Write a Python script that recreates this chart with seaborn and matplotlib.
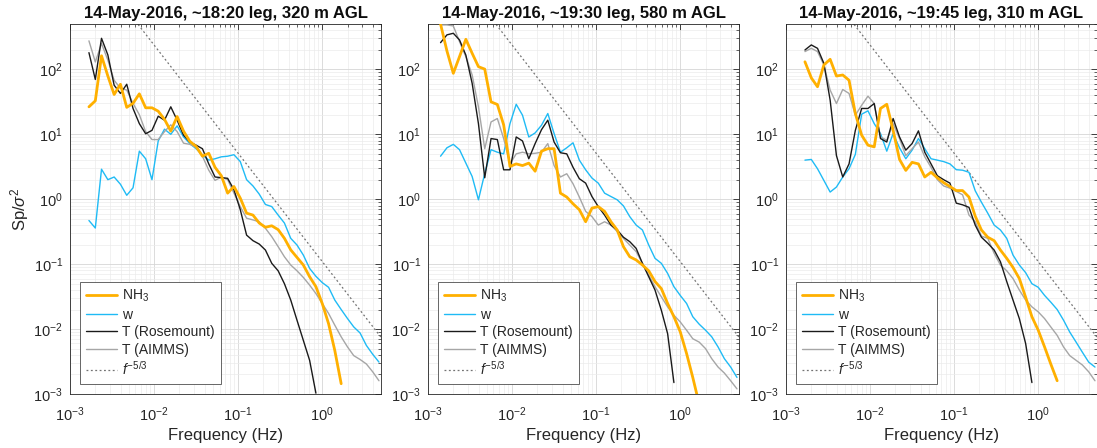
import numpy as np
import matplotlib
matplotlib.use("Agg")
import matplotlib.pyplot as plt
import seaborn as sns
from matplotlib.ticker import LogLocator, NullFormatter

nan = np.nan

# frequency bins (Hz); the 19:30 leg has one extra low-frequency bin
freq_a = [0.00168, 0.00200, 0.00237, 0.00282, 0.00335, 0.00398, 0.00473, 0.00562, 0.00668, 0.00794,
          0.00944, 0.0112, 0.0133, 0.0158, 0.0188, 0.0224, 0.0266, 0.0316, 0.0376, 0.0447,
          0.0531, 0.0631, 0.0750, 0.0891, 0.106, 0.126, 0.150, 0.178, 0.211, 0.251,
          0.299, 0.355, 0.422, 0.501, 0.596, 0.708, 0.841, 1.00, 1.19, 1.41,
          1.68, 2.00, 2.37, 2.82, 3.35, 3.98, 4.73]
freq_b = [0.00141, 0.00168, 0.00200, 0.00237, 0.00282, 0.00335, 0.00398, 0.00473, 0.00562, 0.00668,
          0.00794, 0.00944, 0.0112, 0.0133, 0.0158, 0.0188, 0.0224, 0.0266, 0.0316, 0.0376,
          0.0447, 0.0531, 0.0631, 0.0750, 0.0891, 0.106, 0.126, 0.150, 0.178, 0.211,
          0.251, 0.299, 0.355, 0.422, 0.501, 0.596, 0.708, 0.841, 1.00, 1.19,
          1.41, 1.68, 2.00, 2.37, 2.82, 3.35, 3.98, 4.73]

# leg 1: ~18:20, 320 m
nh3_1 = [26.5, 32.8, 162, 79, 41, 59, 26, 30, 42, 25.6,
         25.6, 22.7, 17, 11.2, 18.8, 11.2, 7.8, 6.5, 4.6, 5.1,
         3.1, 2.3, 1.24, 1.57, 1.04, 0.61, 0.57, 0.43, 0.37, 0.39,
         0.34, 0.25, 0.166, 0.127, 0.097, 0.064, 0.045, 0.0248, 0.0121, 0.0047,
         0.00144, nan, nan, nan, nan, nan, nan]
w_1 = [0.47, 0.36, 2.9, 2.0, 2.2, 1.7, 1.15, 1.5, 5.5, 4.2,
       2.0, 7.9, 12, 10, 13.5, 9.1, 7.2, 6.0, 4.8, 4.0,
       4.2, 4.5, 4.6, 4.85, 3.8, 2.0, 1.6, 1.2, 0.83, 0.77,
       0.57, 0.43, 0.25, 0.197, 0.138, 0.086, 0.065, 0.052, 0.044, 0.028,
       0.020, 0.0145, 0.0108, 0.0087, 0.0056, 0.0041, 0.0031]
trm_1 = [181, 70, 301, 167, 57, 42.6, 59, 25, 14.6, 10.2,
         11.5, 19, 16.5, 26.5, 16.5, 9.7, 7.6, 6.8, 6.0, 3.5,
         2.2, 2.15, 2.1, 1.4, 0.69, 0.28, 0.23, 0.204, 0.165, 0.103,
         0.079, 0.050, 0.028, 0.0137, 0.0067, 0.0033, 0.00103, nan, nan, nan,
         nan, nan, nan, nan, nan, nan, nan]
tai_1 = [275, 130, 250, 139, 68, 51, 48, 30, 20, 11,
         8.3, 8.3, 11, 14, 11, 7.3, 7.0, 6.3, 4.6, 2.8,
         1.95, 2.2, 2.0, 1.24, 0.77, 0.51, 0.48, 0.45, 0.357, 0.265,
         0.186, 0.130, 0.097, 0.079, 0.0625, 0.0475, 0.0353, 0.0248, 0.0174, 0.0115,
         0.0076, 0.0053, 0.0039, 0.0034, 0.0029, 0.0022, 0.0016]

# leg 2: ~19:30, 580 m
nh3_2 = [500, 192, 87, 157, 291, 177, 110, 101, 31.6, 28.8,
         14, 3.2, 3.5, 3.3, 3.6, 2.7, 5.5, 6.0, 6.0, 1.24,
         1.08, 0.85, 0.69, 0.45, 0.73, 0.77, 0.65, 0.45, 0.336, 0.186,
         0.130, 0.116, 0.097, 0.079, 0.054, 0.042, 0.0248, 0.0155, 0.0091, 0.0042,
         0.0018, 0.0007, nan, nan, nan, nan, nan, nan]
w_2 = [4.6, 6.2, 7.0, 5.8, 3.6, 2.24, 0.98, 2.5, 5.8, 5.3,
       5.0, 14.6, 29, 19.7, 9.1, 10.5, 13.8, 20.9, 10.3, 5.3,
       6.2, 7.4, 4.0, 2.84, 2.12, 1.77, 1.24, 1.10, 0.98, 0.79,
       0.54, 0.40, 0.336, 0.197, 0.123, 0.103, 0.072, 0.045, 0.033, 0.0248,
       0.0155, 0.0119, 0.0096, 0.0076, 0.0053, 0.0035, 0.0026, 0.0018]
trm_2 = [258, 340, 360, 284, 166, 61, 14.6, 2.14, 8.6, 8.3,
         2.84, 2.84, 9.1, 7.9, 4.2, 7.2, 11.8, 16.5, 7.6, 5.2,
         5.0, 3.1, 2.07, 1.77, 1.10, 0.77, 0.57, 0.40, 0.336, 0.26,
         0.222, 0.175, 0.103, 0.064, 0.040, 0.0195, 0.0085, 0.0015, nan, nan,
         nan, nan, nan, nan, nan, nan, nan, nan]
tai_2 = [484, 484, 467, 268, 157, 82, 26.5, 6.0, 15.5, 17.5,
         8.6, 3.5, 5.0, 5.3, 5.0, 5.1, 5.3, 7.2, 3.3, 2.2,
         2.47, 1.73, 1.08, 0.65, 0.54, 0.40, 0.45, 0.40, 0.317, 0.25,
         0.197, 0.156, 0.103, 0.068, 0.045, 0.0314, 0.022, 0.0163, 0.0129, 0.0096,
         0.0071, 0.0063, 0.005, 0.0035, 0.0026, 0.0021, 0.0016, 0.0012]

# leg 3: ~19:45, 310 m
nh3_3 = [131, 74, 54, 117, 143, 79, 82, 68, 20.9, 9.7,
         6.8, 6.4, 25, 29, 11.5, 4.1, 2.78, 3.7, 3.5, 2.2,
         2.6, 2.14, 1.8, 1.57, 1.36, 1.36, 1.08, 0.55, 0.336, 0.26,
         0.23, 0.165, 0.123, 0.089, 0.060, 0.031, 0.0155, 0.0096, 0.0053, 0.0029,
         0.0016, nan, nan, nan, nan, nan, nan]
w_3 = [4.0, 4.1, 2.95, 1.95, 1.29, 1.54, 2.2, 2.95, 4.9, 20.4,
       23, 14.6, 10.3, 5.5, 10.3, 6.2, 4.2, 5.7, 8.6, 6.0,
       4.2, 4.0, 3.8, 3.5, 2.85, 2.8, 2.6, 1.35, 0.9, 0.61,
       0.40, 0.336, 0.25, 0.138, 0.097, 0.074, 0.050, 0.044, 0.033, 0.026,
       0.020, 0.0137, 0.009, 0.0063, 0.0044, 0.0031, 0.0026]
trm_3 = [199, 238, 211, 124, 33.6, 4.7, 2.2, 3.5, 11.5, 25,
         25, 29.8, 8.6, 7.6, 17.5, 9.1, 5.7, 7.2, 11.3, 5.3,
         3.5, 2.3, 2.0, 1.77, 0.87, 0.82, 0.75, 0.40, 0.26, 0.21,
         0.165, 0.109, 0.054, 0.028, 0.0145, 0.006, 0.0015, nan, nan, nan,
         nan, nan, nan, nan, nan, nan, nan]
tai_3 = [188, 211, 188, 117, 48, 29.8, 49, 42.6, 19.7, 28,
         38.7, 29.8, 9.1, 8.1, 14.6, 8.6, 4.7, 6.0, 7.6, 4.5,
         3.1, 2.0, 1.6, 1.48, 1.32, 1.17, 0.57, 0.45, 0.27, 0.25,
         0.147, 0.097, 0.079, 0.060, 0.040, 0.028, 0.022, 0.0184, 0.0145, 0.0108,
         0.008, 0.0053, 0.0039, 0.0033, 0.0028, 0.0022, 0.0016]

# f^-5/3 guide line, end points
ref_f = [0.006, 5.0]
ref_y = [556, 0.0075]

titles = ["14-May-2016, ~18:20 leg, 320 m AGL",
          "14-May-2016, ~19:30 leg, 580 m AGL",
          "14-May-2016, ~19:45 leg, 310 m AGL"]

panels = [(freq_a, nh3_1, w_1, trm_1, tai_1),
          (freq_b, nh3_2, w_2, trm_2, tai_2),
          (freq_a, nh3_3, w_3, trm_3, tai_3)]

sns.set_theme(style="white")
plt.rcParams['font.family'] = ['Liberation Sans', 'DejaVu Sans']
plt.rcParams['mathtext.fontset'] = 'custom'
plt.rcParams['mathtext.rm'] = 'Liberation Sans'
plt.rcParams['mathtext.it'] = 'Liberation Sans:italic'
plt.rcParams['mathtext.bf'] = 'Liberation Sans:bold'
plt.rcParams['axes.edgecolor'] = '0.15'
plt.rcParams['axes.linewidth'] = 0.6

c_nh3 = '#FFB000'
c_w = '#1FBBF5'
c_trm = '#1a1a1a'
c_tai = '#a6a6a6'

fig = plt.figure(figsize=(10.97, 4.48), dpi=100)
lefts = [70, 428, 786]

for i, (freq, nh3, w, trm, tai) in enumerate(panels):
    ax = fig.add_axes([lefts[i] / 1097, 54 / 448, 311 / 1097, 370 / 448])
    sns.lineplot(x=freq, y=nh3, ax=ax, color=c_nh3, lw=2.0, label='NH$_3$', zorder=6, estimator=None)
    sns.lineplot(x=freq, y=w, ax=ax, color=c_w, lw=1.0, label='w', zorder=3, estimator=None)
    sns.lineplot(x=freq, y=trm, ax=ax, color=c_trm, lw=1.0, label='T (Rosemount)', zorder=5, estimator=None)
    sns.lineplot(x=freq, y=tai, ax=ax, color=c_tai, lw=1.0, label='T (AIMMS)', zorder=4, estimator=None)
    sns.lineplot(x=ref_f, y=ref_y, ax=ax, color='0.45', lw=0.9, ls=(0, (1.5, 2)),
                 label=r'$\mathit{f}^{-5/3}$', zorder=2, estimator=None)

    ax.set_xscale('log')
    ax.set_yscale('log')
    ax.set_xlim(1e-3, 5)
    ax.set_ylim(1e-3, 500)
    ax.xaxis.set_major_locator(LogLocator(base=10, numticks=10))
    ax.yaxis.set_major_locator(LogLocator(base=10, numticks=10))
    ax.xaxis.set_minor_locator(LogLocator(base=10, subs=np.arange(2, 10), numticks=20))
    ax.yaxis.set_minor_locator(LogLocator(base=10, subs=np.arange(2, 10), numticks=20))
    ax.xaxis.set_minor_formatter(NullFormatter())
    ax.yaxis.set_minor_formatter(NullFormatter())

    ax.grid(True, which='major', color='0.84', lw=0.6)
    ax.grid(True, which='minor', color='0.92', lw=0.5)
    ax.set_axisbelow(True)
    ax.tick_params(which='both', direction='in', top=True, right=True,
                   colors='0.15', labelsize=10.5)
    ax.tick_params(which='major', length=4, width=0.6)
    ax.tick_params(which='minor', length=2, width=0.5)
    ax.tick_params(axis='x', which='major', pad=8)
    ax.tick_params(axis='y', which='major', pad=5)
    for s in ax.spines.values():
        s.set_visible(True)

    ax.set_title(titles[i], fontsize=12, fontweight='bold', color='0.05', pad=4)
    ax.set_xlabel('Frequency (Hz)', fontsize=12, color='0.15', labelpad=3)
    if i == 0:
        ax.set_ylabel(r'Sp/$\sigma^2$', fontsize=12, color='0.15', labelpad=2)
    else:
        ax.set_ylabel('')

    leg = ax.legend(loc='lower left', fontsize=10, frameon=True, fancybox=False,
                    framealpha=1, edgecolor='0.3', handlelength=2.2, handletextpad=0.4,
                    labelspacing=0.25, borderaxespad=0.7, borderpad=0.45)
    leg.get_frame().set_linewidth(0.6)

fig.savefig('out.png', dpi=100)
